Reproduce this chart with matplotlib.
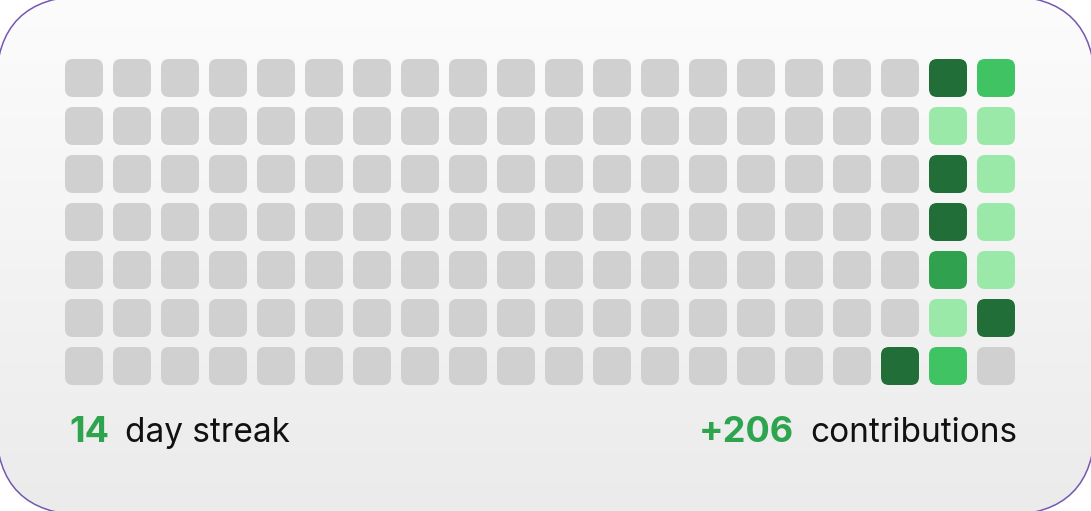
import numpy as np
import matplotlib
matplotlib.use("Agg")
from matplotlib import pyplot as plt
from matplotlib.patches import FancyBboxPatch

# contribution levels, one list per week (column), 7 days each (top -> bottom)
weeks = [[0, 0, 0, 0, 0, 0, 0] for _ in range(17)]
weeks += [
    [0, 0, 0, 0, 0, 0, 4],
    [4, 1, 4, 4, 3, 1, 2],
    [2, 1, 1, 1, 1, 4, 0],
]
level_colors = ["#d0d0d0", "#9be9a8", "#40c463", "#30a14e", "#216e39"]

streak = 14
contributions = 206

plt.rcParams['font.family'] = ['Inter', 'DejaVu Sans']

W, H = 1091, 511
fig = plt.figure(figsize=(W / 100, H / 100), dpi=100)
ax = fig.add_axes([0, 0, 1, 1])

# card with vertical gradient, slightly bigger than the frame so only the corners show
off = 4
card = FancyBboxPatch((-off, -off), W + 2 * off, H + 2 * off,
                      boxstyle="round,pad=0,rounding_size=90",
                      facecolor='none', edgecolor='none', zorder=1)
ax.add_patch(card)
grad = np.linspace(0, 1, 256).reshape(-1, 1)
cmap = matplotlib.colors.LinearSegmentedColormap.from_list('bg', ['#fcfcfc', '#ebebeb'])
img = ax.imshow(grad, extent=(-off, W + off, H + off, -off), cmap=cmap, aspect='auto', zorder=1)
img.set_clip_path(card)
# outline drawn as a flattened polygon (avoids curve clipping glitches)
for poly in card.get_path().to_polygons(closed_only=False):
    ax.plot(poly[:, 0], poly[:, 1], color='#7458b0', lw=1.1, zorder=2)

ax.set_xlim(0, W)
ax.set_ylim(H, 0)
ax.axis('off')

# grid of days
x0, y0, pitch, size = 65, 59, 48, 38
for c, week in enumerate(weeks):
    for r, lvl in enumerate(week):
        ax.add_patch(FancyBboxPatch((x0 + c * pitch, y0 + r * pitch), size, size,
                                    boxstyle="round,pad=0,rounding_size=8",
                                    facecolor=level_colors[lvl], edgecolor='none', zorder=3))

green = '#2ea44f'
ax.text(69, 442, str(streak), color=green, fontsize=26, fontweight='bold', ha='left', va='baseline', zorder=4)
ax.text(125, 442, "day streak", color='#111111', fontsize=24, ha='left', va='baseline', zorder=4)
ax.text(1017, 442, "contributions", color='#111111', fontsize=24, ha='right', va='baseline', zorder=4)
ax.text(794, 442, f"+{contributions}", color=green, fontsize=26, fontweight='bold', ha='right', va='baseline', zorder=4)

fig.savefig('out.png', dpi=100, facecolor='white')
